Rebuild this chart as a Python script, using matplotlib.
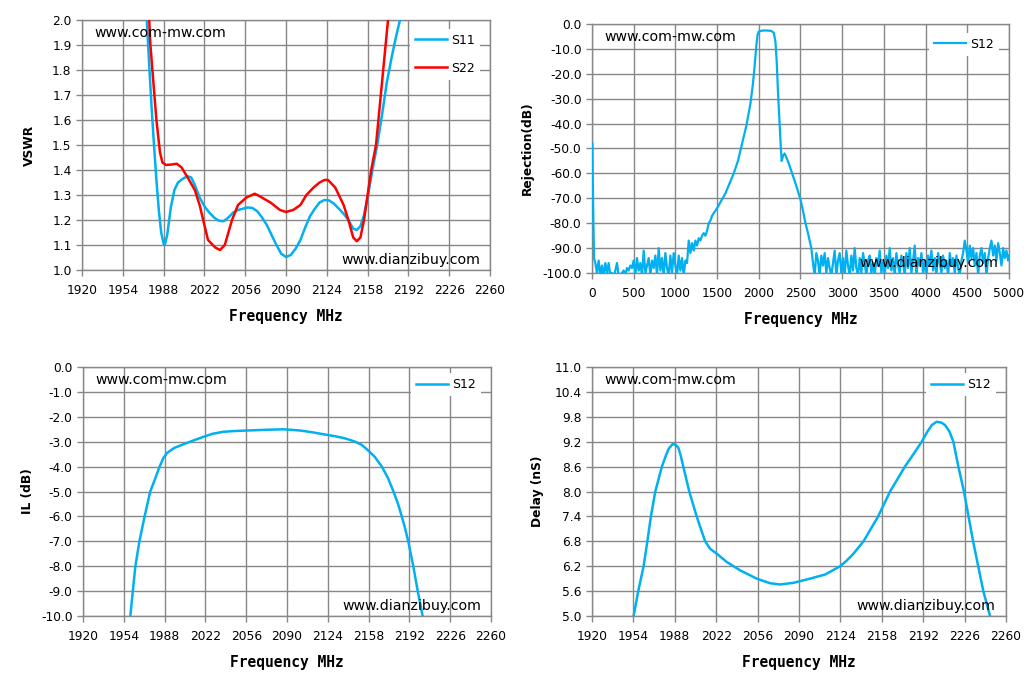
import matplotlib
matplotlib.use('Agg')
import matplotlib.pyplot as plt
import numpy as np

dpi = 100

# ---- VSWR (top left) ----
s11_freq = [1971, 1974, 1976, 1978, 1980, 1982, 1984, 1986, 1988, 1989, 1991, 1994,
            1997, 2000, 2004, 2008, 2011, 2014, 2018, 2022, 2026, 2030, 2034, 2038,
            2042, 2046, 2050, 2054, 2058, 2062, 2066, 2070, 2074, 2078, 2082, 2086,
            2090, 2094, 2098, 2102, 2106, 2110, 2114, 2118, 2122, 2126, 2130, 2134,
            2138, 2142, 2146, 2149, 2152, 2155, 2158, 2162, 2166, 2170, 2174, 2178,
            2182, 2185, 2188]
s11_vswr = [2.30, 2.00, 1.82, 1.65, 1.50, 1.36, 1.24, 1.15, 1.105, 1.10, 1.14, 1.25,
            1.32, 1.35, 1.365, 1.375, 1.37, 1.34, 1.29, 1.255, 1.23, 1.21, 1.197, 1.195,
            1.21, 1.23, 1.24, 1.245, 1.25, 1.248, 1.235, 1.21, 1.18, 1.14, 1.10, 1.065,
            1.052, 1.06, 1.085, 1.12, 1.17, 1.215, 1.245, 1.27, 1.28, 1.278, 1.265, 1.245,
            1.225, 1.20, 1.165, 1.16, 1.175, 1.22, 1.29, 1.40, 1.50, 1.62, 1.75, 1.85,
            1.94, 2.00, 2.07]

s22_freq = [1974, 1976, 1977, 1980, 1982, 1985, 1987, 1990, 1995, 1999, 2003, 2008,
            2014, 2018, 2021, 2025, 2031, 2035, 2039, 2042, 2045, 2050, 2057, 2064,
            2068, 2077, 2085, 2090, 2096, 2102, 2107, 2113, 2118, 2122, 2125, 2131,
            2138, 2142, 2146, 2149, 2152, 2155, 2158, 2161, 2165, 2169, 2173, 2175,
            2177]
s22_vswr = [2.20, 2.00, 1.90, 1.72, 1.60, 1.47, 1.43, 1.42, 1.422, 1.425, 1.41, 1.37,
            1.32, 1.26, 1.20, 1.12, 1.09, 1.08, 1.10, 1.15, 1.20, 1.26, 1.29, 1.305,
            1.295, 1.27, 1.24, 1.232, 1.24, 1.26, 1.30, 1.33, 1.35, 1.36, 1.36, 1.33,
            1.26, 1.20, 1.13, 1.115, 1.13, 1.20, 1.30, 1.40, 1.50, 1.70, 1.90, 2.00,
            2.10]

# ---- Rejection (top right) ----
rej_freq = [5, 15, 25, 40, 60, 80, 100, 120, 140, 160, 180, 200, 220, 240, 260, 280,
            300, 320, 340, 360, 380, 400, 420, 440, 460, 480, 500, 520, 540, 560, 580,
            600, 620, 640, 660, 680, 700, 720, 740, 760, 780, 800, 820, 840, 860, 880,
            900, 920, 940, 960, 980, 1000, 1020, 1040, 1060, 1080, 1100, 1120, 1140,
            1160, 1180, 1200, 1220, 1240, 1260, 1280, 1300, 1320, 1340, 1360, 1380,
            1400, 1420, 1440, 1460, 1500, 1550, 1600, 1650, 1700, 1750, 1800, 1850,
            1900, 1930, 1950, 1970, 1985, 2000, 2050, 2100, 2150, 2180, 2200, 2215,
            2230, 2250, 2265, 2275, 2290, 2310, 2330, 2360, 2400, 2450, 2500, 2530,
            2560, 2590, 2610, 2630,
            2650, 2670, 2690, 2710, 2730, 2750, 2770, 2790, 2810, 2830, 2850, 2870,
            2890, 2910, 2930, 2950, 2970, 2990, 3010, 3030, 3050, 3070, 3090, 3110,
            3130, 3150, 3170, 3190, 3210, 3230, 3250, 3270, 3290, 3310, 3330, 3350,
            3370, 3390, 3410, 3430, 3450, 3470, 3490, 3510, 3530, 3550, 3570, 3590,
            3610, 3630, 3650, 3670, 3690, 3710, 3730, 3750, 3770, 3790, 3810, 3830,
            3850, 3870, 3890, 3910, 3930, 3950, 3970, 3990, 4010, 4030, 4050, 4070,
            4090, 4110, 4130, 4150, 4170, 4190, 4210, 4230, 4250, 4270, 4290, 4310,
            4330, 4350, 4370, 4390, 4410, 4430, 4450, 4470, 4490, 4510, 4530, 4550,
            4570, 4590, 4610, 4630, 4650, 4670, 4690, 4710, 4730, 4750, 4770, 4790,
            4810, 4830, 4850, 4870, 4890, 4910, 4930, 4950, 4970, 4990, 5000]
rej_db = [-48, -75, -94, -96, -100, -95, -101, -97, -101, -96, -100, -96, -101, -100,
          -102, -99, -96, -101, -102, -100, -99, -101, -98, -99, -97, -98, -95, -101,
          -94, -99, -96, -101, -91, -100, -97, -94, -101, -95, -98, -93, -101, -90,
          -99, -94, -101, -92, -98, -101, -93, -100, -92, -97, -101, -93, -99, -94,
          -101, -95, -96, -87, -92, -88, -91, -87, -89, -86, -87, -85, -84, -85, -83,
          -80, -79, -77, -76, -74, -71, -68, -64, -60, -55, -48, -41, -32, -24, -17,
          -9, -4.5, -3, -2.6, -2.6, -2.8, -3.5, -7, -15, -27, -40, -50, -55, -53,
          -52, -53.5, -56, -60, -65, -70.5, -75, -80, -84, -87, -90,
          -96, -101, -92, -95, -101, -93, -97, -92, -100, -94, -98, -101, -96, -91,
          -101, -95, -92, -100, -94, -101, -91, -97, -101, -93, -99, -90, -98, -101,
          -94, -100, -92, -96, -101, -95, -93, -100, -96, -101, -94, -97, -91, -100,
          -95, -101, -93, -98, -90, -99, -94, -101, -92, -97, -100, -93, -96, -101,
          -92, -98, -90, -100, -95, -89, -101, -94, -97, -92, -100, -95, -101, -93,
          -97, -91, -99, -94, -101, -92, -96, -100, -93, -98, -95, -101, -92, -97,
          -94, -100, -93, -98, -101, -95, -92, -87, -91, -96, -89, -94, -90, -97,
          -92, -101, -93, -90, -96, -92, -101, -94, -90, -87, -93, -89, -95, -88,
          -92, -97, -90, -94, -91, -95, -93]

# ---- Insertion loss (bottom left) ----
il_freq = [1958, 1959.4, 1963.6, 1967, 1971.3, 1976, 1980, 1983.8, 1987, 1990, 1996,
           2003.8, 2012, 2020.5, 2028, 2037, 2046, 2056.5, 2073, 2087, 2101, 2111,
           2120.4, 2130, 2137, 2142, 2146.8, 2152, 2156.5, 2163, 2169, 2174, 2178.7,
           2182.5, 2185.6, 2188.5, 2191, 2195.2, 2198.9, 2203, 2204]
il_db = [-10.5, -10.0, -8.0, -7.0, -6.0, -5.0, -4.5, -4.0, -3.65, -3.45, -3.25,
         -3.1, -2.95, -2.8, -2.68, -2.6, -2.57, -2.55, -2.52, -2.5, -2.55, -2.62,
         -2.7, -2.78, -2.85, -2.92, -3.0, -3.12, -3.3, -3.6, -4.0, -4.45, -5.0,
         -5.5, -6.0, -6.5, -7.0, -8.0, -9.0, -10.0, -10.3]

# ---- Group delay (bottom right) ----
dl_freq = [1953, 1954.2, 1958, 1962.4, 1965.5, 1968.4, 1972, 1977.4, 1980.5, 1983,
           1986.5, 1989, 1991, 1993, 1995, 1999.9, 2006, 2010, 2013, 2017, 2022.6,
           2030.8, 2041.7, 2055.4, 2066.3, 2074.5, 2085.5, 2099, 2111.5, 2123.8,
           2129, 2134.7, 2143, 2149, 2155, 2164.8, 2177, 2184, 2190.8, 2195, 2199,
           2203, 2207, 2210, 2213.5, 2216.8, 2220.9, 2225.5, 2233, 2241.4, 2246.9,
           2248]
dl_ns = [4.8, 5.0, 5.6, 6.2, 6.8, 7.4, 8.0, 8.6, 8.85, 9.03, 9.15, 9.12, 9.05, 8.85,
         8.6, 8.0, 7.4, 7.05, 6.8, 6.62, 6.5, 6.3, 6.1, 5.9, 5.79, 5.76, 5.8, 5.9,
         6.0, 6.2, 6.33, 6.5, 6.8, 7.1, 7.4, 8.0, 8.6, 8.9, 9.2, 9.42, 9.6, 9.68,
         9.66, 9.6, 9.45, 9.2, 8.6, 8.0, 6.8, 5.6, 5.0, 4.8]

freq_ticks = np.arange(1920, 2261, 34)
rej_ticks = np.arange(0, 5001, 500)

blue = '#00B0F0'
red = '#FF0000'
grid_col = '#878787'
lab_font = 'DejaVu Sans Mono'

fig = plt.figure(figsize=(1034 / dpi, 684 / dpi), dpi=dpi)


def style_axes(ax, xlim, ylim, xticks, yticks, yfmt, ylabel, ylab_x):
    ax.set_xlim(*xlim)
    ax.set_ylim(*ylim)
    ax.set_xticks(xticks)
    ax.set_yticks(yticks)
    ax.set_yticklabels([yfmt.format(v) for v in yticks])
    ax.grid(True, color=grid_col, linewidth=1.0)
    ax.set_axisbelow(True)
    for sp in ax.spines.values():
        sp.set_color(grid_col)
        sp.set_linewidth(1.0)
    ax.tick_params(axis='both', colors=grid_col, labelcolor='black',
                   labelsize=8.8, length=4, width=1, direction='out')
    ax.tick_params(axis='x', pad=6)
    ax.set_xlabel('Frequency MHz', family=lab_font, fontweight='bold',
                  fontsize=10.5, labelpad=9)
    ax.set_ylabel(ylabel, fontweight='bold', fontsize=8.8)
    ax.yaxis.set_label_coords(ylab_x, 0.5)
    ax.text(0.03, 0.975, 'www.com-mw.com', transform=ax.transAxes,
            fontsize=10.2, va='top', ha='left')
    ax.text(0.975, 0.012, 'www.dianzibuy.com', transform=ax.transAxes,
            fontsize=10.2, va='bottom', ha='right')


def add_legend(ax, anchor):
    leg = ax.legend(loc='upper right', bbox_to_anchor=anchor, frameon=True,
                    fancybox=False, framealpha=1.0, edgecolor='none',
                    facecolor='white', fontsize=9, handlelength=2.6,
                    handletextpad=0.3, labelspacing=1.2, borderpad=0.4)
    leg.get_frame().set_linewidth(0)


# top left: VSWR
ax1 = fig.add_axes([0.0793, 0.6053, 0.3946, 0.3655])
ax1.plot(s11_freq, s11_vswr, color=blue, lw=1.8, label='S11', zorder=3)
ax1.plot(s22_freq, s22_vswr, color=red, lw=1.8, label='S22', zorder=3)
style_axes(ax1, (1920, 2260), (1.0, 2.0), freq_ticks,
           np.round(np.arange(1.0, 2.01, 0.1), 1), '{:.1f}', 'VSWR', -0.113)
add_legend(ax1, (0.99, 0.99))

# top right: rejection
ax2 = fig.add_axes([0.5725, 0.6009, 0.4033, 0.3640])
ax2.plot(rej_freq, rej_db, color=blue, lw=1.6, label='S12', zorder=3)
style_axes(ax2, (0, 5000), (-100, 0), rej_ticks,
           np.arange(-100, 1, 10), '{:.1f}', 'Rejection(dB)', -0.139)
add_legend(ax2, (0.99, 0.99))

# bottom left: IL
ax3 = fig.add_axes([0.0803, 0.0994, 0.3946, 0.3640])
ax3.plot(il_freq, il_db, color=blue, lw=1.8, label='S12', zorder=3)
style_axes(ax3, (1920, 2260), (-10, 0), freq_ticks,
           np.arange(-10, 1, 1), '{:.1f}', 'IL (dB)', -0.12)
add_legend(ax3, (0.99, 1.0))

# bottom right: delay
ax4 = fig.add_axes([0.5725, 0.0994, 0.4004, 0.3640])
ax4.plot(dl_freq, dl_ns, color=blue, lw=1.8, label='S12', zorder=3)
style_axes(ax4, (1920, 2260), (5.0, 11.0), freq_ticks,
           np.round(np.arange(5.0, 11.01, 0.6), 1), '{:.1f}', 'Delay (nS)', -0.116)
add_legend(ax4, (0.99, 1.0))

fig.savefig('out.png', dpi=dpi)
